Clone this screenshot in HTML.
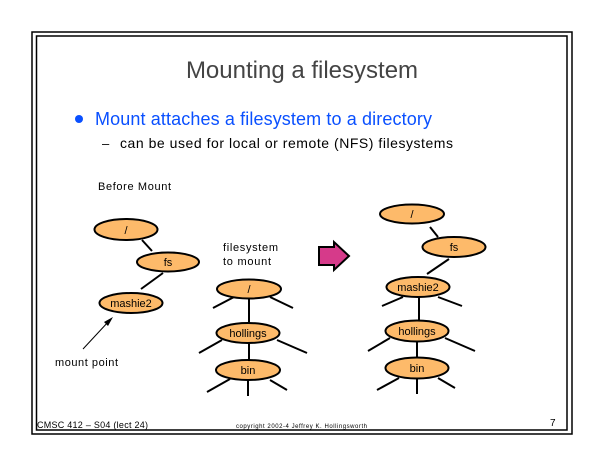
<!DOCTYPE html>
<html><head><style>
body{margin:0;background:#fff;}
svg{display:block;font-family:"Liberation Sans",sans-serif;}
</style></head><body>
<svg width="605" height="467" viewBox="0 0 605 467" xmlns="http://www.w3.org/2000/svg">
<rect x="32" y="32" width="540" height="402" fill="none" stroke="#000" stroke-width="1.5"/>
<rect x="36.5" y="36" width="530.5" height="394" fill="none" stroke="#000" stroke-width="1.5"/>
<text x="302" y="78" font-size="24" fill="#444" text-anchor="middle">Mounting a filesystem</text>
<circle cx="79" cy="119" r="4" fill="#0a50ff"/>
<text x="95" y="125" font-size="18" fill="#0a50ff" textLength="337">Mount attaches a filesystem to a directory</text>
<text x="102" y="148" font-size="13" fill="#000">–</text>
<text x="120" y="148" font-size="14" fill="#000" textLength="333">can be used for local or remote (NFS) filesystems</text>
<text x="98" y="190" font-size="11" fill="#000" textLength="73">Before Mount</text>
<g stroke="#000" stroke-width="2" fill="none">
<line x1="142" y1="240" x2="152" y2="251"/>
<line x1="163" y1="273" x2="141" y2="289"/>
<line x1="213" y1="308" x2="234" y2="297"/><line x1="270" y1="297" x2="293" y2="308"/>
<line x1="249" y1="298" x2="249" y2="323"/>
<line x1="199" y1="353" x2="222" y2="340"/><line x1="277" y1="340" x2="307" y2="353"/>
<line x1="249" y1="343" x2="249" y2="360"/>
<line x1="207" y1="392" x2="230" y2="379"/><line x1="270" y1="380" x2="287" y2="390"/>
<line x1="248" y1="380" x2="248" y2="396"/>
<line x1="430" y1="227" x2="438" y2="237"/>
<line x1="449" y1="259" x2="427" y2="274"/>
<line x1="382" y1="306" x2="403" y2="297"/><line x1="438" y1="297" x2="462" y2="306"/>
<line x1="419" y1="297" x2="419" y2="321"/>
<line x1="368" y1="351" x2="390" y2="338"/><line x1="445" y1="338" x2="475" y2="351"/>
<line x1="417" y1="342" x2="417" y2="358"/>
<line x1="377" y1="390" x2="399" y2="378"/><line x1="438" y1="378" x2="455" y2="388"/>
<line x1="417" y1="379" x2="417" y2="394"/>
</g>
<g fill="#fdba6a" stroke="#000" stroke-width="2">
<ellipse cx="126" cy="229.5" rx="31.5" ry="10.5"/>
<ellipse cx="168" cy="262" rx="31" ry="9.5"/>
<ellipse cx="131" cy="303" rx="31.5" ry="10"/>
<ellipse cx="249" cy="289" rx="32" ry="9.5"/>
<ellipse cx="248" cy="333" rx="31.5" ry="10"/>
<ellipse cx="248" cy="370" rx="32" ry="10"/>
<ellipse cx="412" cy="214" rx="32" ry="9.5"/>
<ellipse cx="454" cy="247" rx="31.5" ry="10"/>
<ellipse cx="418" cy="287" rx="31.5" ry="10"/>
<ellipse cx="417" cy="331" rx="31.5" ry="10.5"/>
<ellipse cx="417" cy="368" rx="31.5" ry="10.5"/>
</g>
<g font-size="11" fill="#000" text-anchor="middle">
<text x="126" y="234">/</text><text x="168" y="266">fs</text><text x="131" y="307">mashie2</text>
<text x="249" y="293">/</text><text x="248" y="337">hollings</text><text x="248" y="374">bin</text>
<text x="412" y="218">/</text><text x="454" y="251">fs</text><text x="418" y="291">mashie2</text>
<text x="417" y="335">hollings</text><text x="417" y="372">bin</text>
</g>
<g font-size="11" fill="#000">
<text x="223" y="251" textLength="55">filesystem</text><text x="223" y="265" textLength="48">to mount</text>
<text x="55" y="366" textLength="63">mount point</text>
</g>
<line x1="83" y1="349" x2="109" y2="321" stroke="#000" stroke-width="1"/>
<polygon points="113,317 104,322 108,326" fill="#000"/>
<polygon points="319,247 334,247 334,242 349,256 334,270 334,265 319,265" fill="#d63a8a" stroke="#000" stroke-width="2"/>
<text x="37" y="428" font-size="9" fill="#000" textLength="111">CMSC 412 – S04 (lect 24)</text>
<text x="236" y="428" font-size="6" fill="#000" textLength="131">copyright 2002-4 Jeffrey K. Hollingsworth</text>
<text x="550" y="426" font-size="10" fill="#000">7</text>
</svg>
</body></html>
